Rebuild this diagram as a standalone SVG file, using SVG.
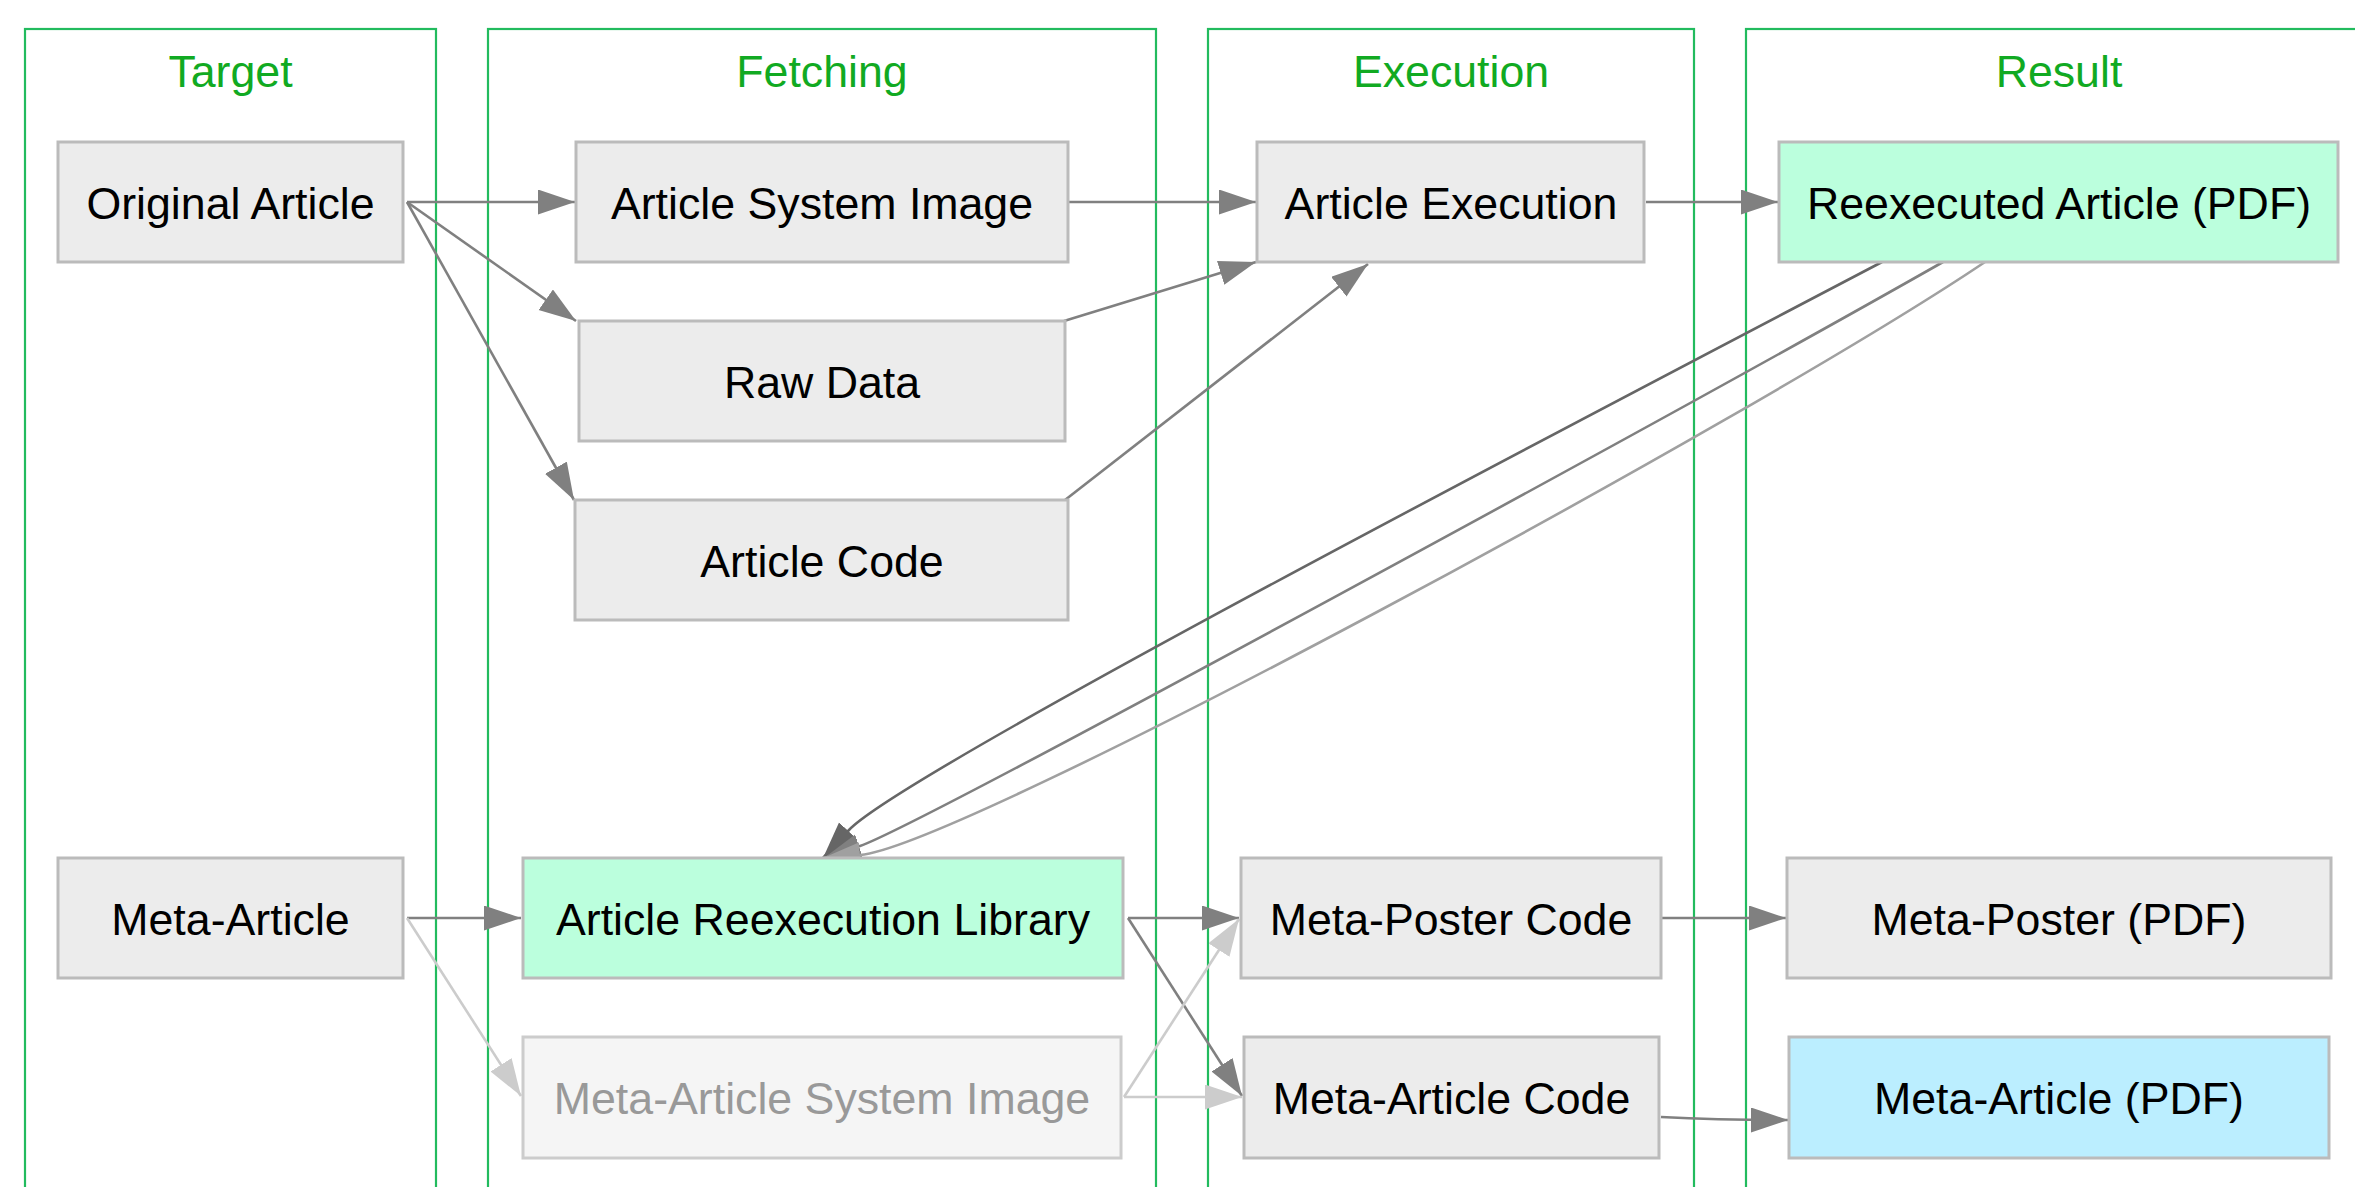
<svg xmlns="http://www.w3.org/2000/svg" width="2355" height="1187" viewBox="0 0 2355 1187">
<defs>
<style>
.cl{fill:none;stroke:#22bb5e;stroke-width:2.2}
.ct{font-family:"Liberation Sans",Arial,sans-serif;font-size:44.7px;fill:#11aa22;text-anchor:middle}
.n rect{fill:#ececec;stroke:#bbbbbb;stroke-width:3}
.n text{font-family:"Liberation Sans",Arial,sans-serif;font-size:44.7px;fill:#000;text-anchor:middle}
.n.g rect{fill:#bbffdd}
.n.b rect{fill:#bbeeff}
.n.f rect{fill:#f5f5f5;stroke:#cccccc}
.n.f text{fill:#999999}
.e{fill:none;stroke:#808080;stroke-width:2.6}
.e.d{stroke:#666666}
.e.m{stroke:#a0a0a0}
.e.l{stroke:#cccccc}
</style>
<marker id="a" markerUnits="userSpaceOnUse" markerWidth="40" markerHeight="28" refX="37" refY="12.5" orient="auto" viewBox="0 0 40 28"><path d="M0,0 L37,12.5 L0,25 z" fill="#808080"/></marker>
<marker id="ad" markerUnits="userSpaceOnUse" markerWidth="40" markerHeight="28" refX="37" refY="12.5" orient="auto" viewBox="0 0 40 28"><path d="M0,0 L37,12.5 L0,25 z" fill="#666666"/></marker>
<marker id="am" markerUnits="userSpaceOnUse" markerWidth="40" markerHeight="28" refX="37" refY="12.5" orient="auto" viewBox="0 0 40 28"><path d="M0,0 L37,12.5 L0,25 z" fill="#a0a0a0"/></marker>
<marker id="al" markerUnits="userSpaceOnUse" markerWidth="40" markerHeight="28" refX="37" refY="12.5" orient="auto" viewBox="0 0 40 28"><path d="M0,0 L37,12.5 L0,25 z" fill="#cccccc"/></marker>
</defs>
<rect width="2355" height="1187" fill="#ffffff"/>
<g id="clusters">
<g id="cluster_target"><rect class="cl" x="25" y="29" width="411" height="1200"/><text class="ct" x="230.5" y="87">Target</text></g>
<g id="cluster_fetching"><rect class="cl" x="488" y="29" width="668" height="1200"/><text class="ct" x="822" y="87">Fetching</text></g>
<g id="cluster_execution"><rect class="cl" x="1208" y="29" width="486" height="1200"/><text class="ct" x="1451" y="87">Execution</text></g>
<g id="cluster_result"><rect class="cl" x="1746" y="29" width="626" height="1200"/><text class="ct" x="2059" y="87">Result</text></g>
</g>
<g id="edges">
<path class="e" d="M407,202 L575,202" marker-end="url(#a)"/>
<path class="e" d="M407,202 L576,321" marker-end="url(#a)"/>
<path class="e" d="M407,202 L574,500" marker-end="url(#a)"/>
<path class="e" d="M1068,202 L1256,202" marker-end="url(#a)"/>
<path class="e" d="M1064,321 L1256,262" marker-end="url(#a)"/>
<path class="e" d="M1065,500 L1368,264" marker-end="url(#a)"/>
<path class="e" d="M1646,202 L1778,202" marker-end="url(#a)"/>
<path class="e d" d="M1882,262 C1600,410 903,772 849,830 L823,858" marker-end="url(#ad)"/>
<path class="e" d="M1943,262 C1700,400 917,827 860,846 L824,858" marker-end="url(#a)"/>
<path class="e m" d="M1985,262 C1750,420 960,847 860,855 L823,858" marker-end="url(#am)"/>
<path class="e" d="M407,918 L521,918" marker-end="url(#a)"/>
<path class="e l" d="M407,918 L521,1096" marker-end="url(#al)"/>
<path class="e" d="M1128,918 L1239,918" marker-end="url(#a)"/>
<path class="e" d="M1128,918 L1242,1096" marker-end="url(#a)"/>
<path class="e l" d="M1124,1097 L1239,919" marker-end="url(#al)"/>
<path class="e l" d="M1124,1097 L1242,1097" marker-end="url(#al)"/>
<path class="e" d="M1661,918 L1786,918" marker-end="url(#a)"/>
<path class="e" d="M1661,1117 C1700,1119 1740,1120 1788,1120" marker-end="url(#a)"/>
</g>
<g id="original_article" class="n"><rect x="58" y="142" width="345" height="120"/><text x="230.5" y="219">Original Article</text></g>
<g id="article_system_image" class="n"><rect x="576" y="142" width="492" height="120"/><text x="822" y="219">Article System Image</text></g>
<g id="raw_data" class="n"><rect x="579" y="321" width="486" height="120"/><text x="822" y="398">Raw Data</text></g>
<g id="article_code" class="n"><rect x="575" y="500" width="493" height="120"/><text x="822" y="577">Article Code</text></g>
<g id="article_execution" class="n"><rect x="1257" y="142" width="387" height="120"/><text x="1451" y="219">Article Execution</text></g>
<g id="reexecuted_article" class="n g"><rect x="1779" y="142" width="559" height="120"/><text x="2059" y="219">Reexecuted Article (PDF)</text></g>
<g id="meta_article" class="n"><rect x="58" y="858" width="345" height="120"/><text x="230.5" y="935">Meta-Article</text></g>
<g id="article_reexecution_library" class="n g"><rect x="523" y="858" width="600" height="120"/><text x="823" y="935">Article Reexecution Library</text></g>
<g id="meta_article_system_image" class="n f"><rect x="523" y="1037" width="598" height="121"/><text x="822" y="1114">Meta-Article System Image</text></g>
<g id="meta_poster_code" class="n"><rect x="1241" y="858" width="420" height="120"/><text x="1451" y="935">Meta-Poster Code</text></g>
<g id="meta_article_code" class="n"><rect x="1244" y="1037" width="415" height="121"/><text x="1451.5" y="1114">Meta-Article Code</text></g>
<g id="meta_poster_pdf" class="n"><rect x="1787" y="858" width="544" height="120"/><text x="2059" y="935">Meta-Poster (PDF)</text></g>
<g id="meta_article_pdf" class="n b"><rect x="1789" y="1037" width="540" height="121"/><text x="2059" y="1114">Meta-Article (PDF)</text></g>
</svg>
